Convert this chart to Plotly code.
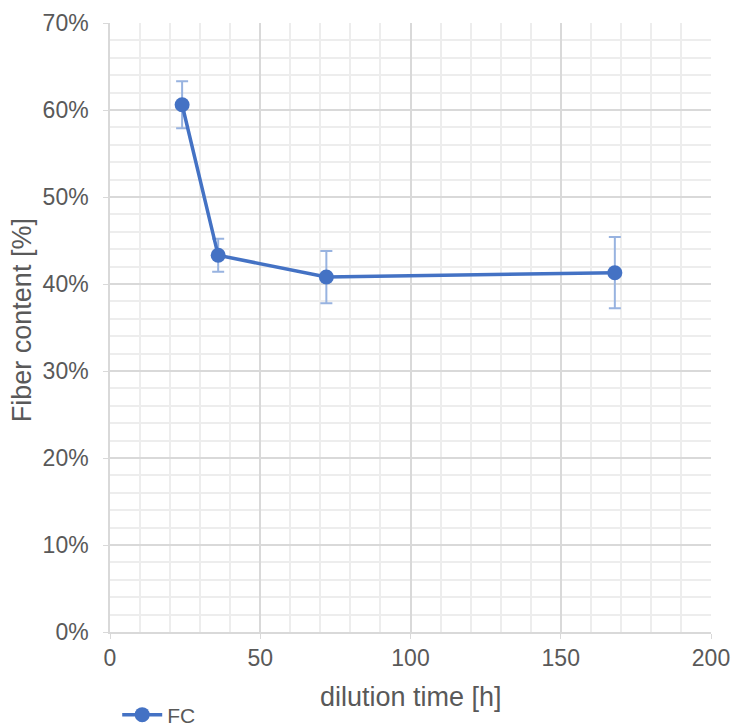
import plotly.graph_objects as go

dilution_time = [24, 36, 72, 168]
fiber_content = [0.606, 0.433, 0.408, 0.413]
error = [0.027, 0.019, 0.030, 0.041]
x_title = "dilution time [h]"
y_title = "Fiber content [%]"

fig = go.Figure()
fig.add_trace(go.Scatter(
    x=dilution_time, y=fiber_content, name="FC", mode="lines+markers",
    line=dict(color="#4472C4", width=3.5),
    marker=dict(color="#4472C4", size=15),
    error_y=dict(type="data", array=error, visible=True, color="#98B3E0", thickness=2, width=6),
))

font_color = "#595959"
fig.update_layout(
    width=733, height=727,
    margin=dict(l=110, r=22, t=23, b=95),
    plot_bgcolor="white", paper_bgcolor="white",
    font=dict(family="Liberation Sans, Arial", color=font_color, size=23),
    showlegend=True,
    legend=dict(orientation="h", x=0.012, xanchor="left", xref="paper",
                y=(727 - 715) / 727, yanchor="middle", yref="container",
                itemwidth=40,
                font=dict(size=21, color=font_color), bgcolor="rgba(0,0,0,0)"),
    xaxis=dict(
        range=[0, 200], dtick=50, tick0=0, automargin=False,
        showgrid=True, gridcolor="#D9D9D9", gridwidth=1.5,
        showline=True, linecolor="#D9D9D9", linewidth=1.5,
        ticks="outside", ticklen=5, tickcolor="#D9D9D9",
        ticklabelstandoff=0,
        minor=dict(dtick=10, showgrid=True, gridcolor="#EDEDED", gridwidth=1.5),
        zeroline=False, tickfont=dict(size=23, color=font_color),
    ),
    yaxis=dict(
        range=[0, 0.70], dtick=0.10, tick0=0, tickformat=".0%", automargin=False,
        showgrid=True, gridcolor="#D9D9D9", gridwidth=1.5,
        showline=True, linecolor="#D9D9D9", linewidth=1.5,
        ticks="outside", ticklen=5, tickcolor="#D9D9D9",
        ticklabelstandoff=10,
        minor=dict(dtick=0.02, showgrid=True, gridcolor="#EDEDED", gridwidth=1.5),
        zeroline=False, tickfont=dict(size=23, color=font_color),
    ),
    annotations=[
        dict(text=x_title, xref="paper", yref="paper", x=0.5, y=0,
             xanchor="center", yanchor="middle", yshift=-65, showarrow=False,
             font=dict(size=27, color=font_color)),
        dict(text=y_title, xref="paper", yref="paper", x=0, y=0.512,
             xanchor="center", yanchor="middle", xshift=-88, textangle=-90,
             showarrow=False, font=dict(size=27, color=font_color)),
    ],
)

fig.write_html("out.html", config={"displayModeBar": False},
               post_script="document.body.style.margin='0';")
